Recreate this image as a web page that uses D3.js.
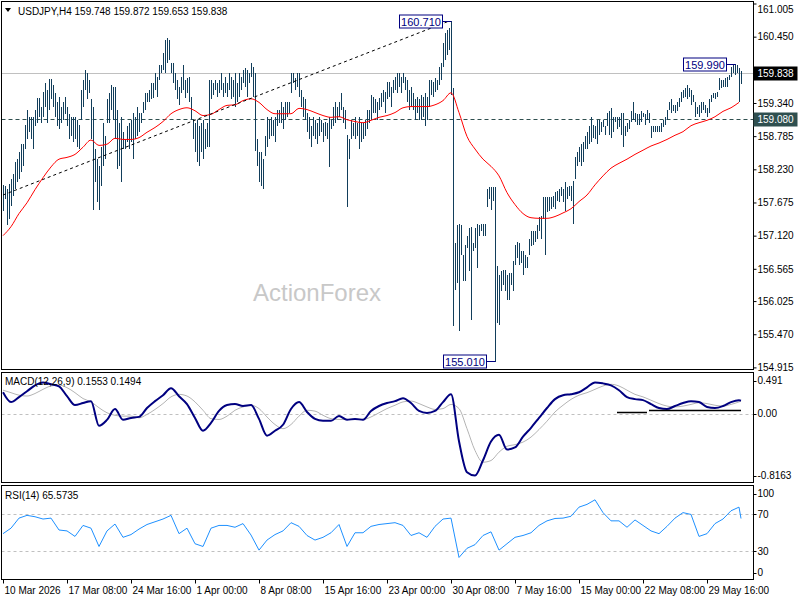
<!DOCTYPE html>
<html>
<head>
<script src="https://d3js.org/d3.v7.min.js"></script>
<title>USDJPY H4</title>
<style>
  body { margin: 0; background: #ffffff; }
  svg text { font-family: "Liberation Sans", Arial, sans-serif; font-size: 10px; }
</style>
</head>
<body>
<svg id="chart" width="800" height="600"></svg>
<script>
// ---- data ----
const symbol = "USDJPY,H4";
const lastOhlc = [159.748, 159.872, 159.653, 159.838];

// bar highs / lows, one per H4 bar, 10 Mar 00:00 .. 3 Jun
const highs = [
157.97,157.95,157.90,157.99,158.07,158.15,158.35,158.40,158.52,158.65,
158.65,158.98,159.23,159.10,159.10,159.10,159.23,159.43,159.43,159.28,
159.53,159.68,159.56,159.74,159.74,159.64,159.51,159.35,159.44,159.28,
159.35,159.44,159.28,159.15,159.11,159.11,159.11,159.06,158.98,159.56,
159.73,159.89,159.84,159.73,159.40,159.28,158.57,158.40,158.28,158.61,
159.01,158.78,159.40,159.51,159.64,159.61,159.61,159.23,159.01,159.11,
158.85,158.73,158.95,159.01,159.06,159.18,159.11,159.28,159.18,159.18,
159.35,159.51,159.51,159.56,159.68,159.68,159.84,159.78,159.98,159.98,
160.17,160.39,160.42,160.39,160.01,160.01,159.84,159.73,159.61,159.78,
159.98,159.73,159.76,159.78,159.44,159.06,159.01,159.06,158.95,159.01,
159.06,158.90,159.01,159.73,159.73,159.68,159.73,159.68,159.73,159.84,
159.68,159.78,159.68,159.84,159.78,159.73,159.84,159.68,159.84,159.78,
159.89,159.93,159.89,159.84,160.01,159.94,159.84,158.73,158.52,158.52,
158.40,158.78,159.11,159.06,159.11,159.06,159.11,159.23,159.23,159.36,
159.28,159.35,159.35,159.36,159.84,159.84,159.76,159.84,159.84,159.56,
159.44,159.40,159.18,159.11,158.95,159.11,159.06,159.01,159.11,159.06,
159.01,159.03,159.01,159.11,159.06,159.28,159.35,159.28,159.36,159.51,
159.28,159.23,158.81,158.73,159.06,159.01,159.11,159.01,159.11,159.01,
159.01,159.06,159.23,159.23,159.48,159.44,159.40,159.36,159.43,159.51,
159.56,159.53,159.69,159.69,159.61,159.73,159.78,159.84,159.84,159.78,
159.84,159.78,159.73,159.56,159.61,159.51,159.40,159.44,159.40,159.48,
159.44,159.51,159.44,159.73,159.73,159.69,159.76,159.73,159.94,160.01,
160.34,160.51,160.56,160.59,160.71,159.59,156.99,157.29,157.32,157.29,
156.79,156.96,157.12,157.24,157.27,156.99,157.24,157.32,157.29,157.32,
157.32,157.32,157.90,157.94,157.94,157.94,157.94,156.61,156.46,156.53,
156.54,156.54,156.46,156.49,156.49,156.69,156.96,157.02,156.99,156.86,
156.86,156.79,156.77,157.07,157.19,157.19,157.19,157.29,157.44,157.45,
157.77,157.77,157.77,157.77,157.77,157.79,157.85,157.87,157.90,157.94,
157.90,158.02,157.94,157.95,157.95,158.04,158.43,158.52,158.60,158.65,
158.68,158.78,158.86,158.95,159.10,158.98,158.95,159.06,159.06,159.03,
159.06,158.95,159.18,159.20,159.26,159.11,159.10,159.10,159.10,159.18,
159.18,158.95,159.01,159.06,159.20,159.35,159.18,159.15,159.15,159.20,
159.18,159.15,159.23,159.18,158.95,158.95,158.95,158.95,158.95,159.01,
159.06,159.11,159.23,159.36,159.40,159.31,159.31,159.36,159.43,159.53,
159.56,159.59,159.64,159.59,159.56,159.48,159.35,159.28,159.31,159.35,
159.36,159.31,159.26,159.40,159.48,159.51,159.51,159.53,159.76,159.73,
159.73,159.76,159.78,159.81,159.94,159.98,159.99,159.98,159.93,159.872
];
const lows = [
157.54,157.74,157.29,157.40,157.62,157.79,157.90,158.02,158.07,158.18,
158.28,158.57,158.73,158.85,158.73,158.57,158.95,159.01,159.11,159.01,
159.10,159.28,159.01,159.23,159.40,159.28,159.11,158.95,158.90,159.01,
159.06,159.15,158.95,158.73,158.78,158.68,158.73,158.61,158.57,159.06,
159.28,159.56,159.40,159.51,158.73,157.55,158.02,157.69,157.55,157.95,
158.28,158.40,159.01,159.01,159.23,159.06,158.73,158.23,158.28,158.02,
158.57,158.57,158.68,158.57,158.68,158.40,158.73,158.78,158.85,159.01,
159.18,159.23,159.35,159.35,159.40,159.43,159.56,159.44,159.73,159.84,
159.89,159.84,160.01,160.06,159.84,159.68,159.56,159.40,159.31,159.51,
159.56,159.43,159.51,159.35,159.06,158.73,158.52,158.35,158.28,158.52,
158.40,158.57,158.61,158.61,159.40,159.48,159.56,159.44,159.51,159.56,
159.44,159.51,159.44,159.56,159.40,159.44,159.28,159.35,159.44,159.56,
159.68,159.61,159.44,159.68,159.78,159.44,158.53,158.28,158.02,157.95,
157.90,158.45,158.61,158.73,158.78,158.78,158.68,158.95,159.01,159.01,
158.90,159.06,159.11,159.18,159.51,159.68,159.56,159.61,159.44,159.28,
159.11,159.06,158.85,158.73,158.60,158.78,158.73,158.65,158.78,158.85,
158.68,158.78,158.73,158.27,158.90,158.95,159.01,159.06,159.11,159.23,
159.01,158.90,157.60,158.40,158.73,158.78,158.73,158.78,158.57,158.68,
158.73,158.78,158.90,159.01,159.06,159.18,159.18,159.06,159.23,159.28,
159.35,159.18,159.40,159.44,159.28,159.51,159.56,159.51,159.61,159.51,
159.68,159.56,159.35,159.23,159.28,159.23,159.06,159.18,159.06,159.06,
159.11,158.95,159.06,159.28,159.48,159.44,159.53,159.56,159.64,159.73,
159.94,160.06,160.14,160.22,159.48,155.60,156.21,156.33,155.53,156.79,
156.36,156.36,156.91,156.53,155.71,156.86,156.91,156.58,157.12,157.19,
157.11,157.11,157.60,157.74,157.55,157.70,155.01,155.66,155.63,156.19,
156.29,156.19,156.05,156.05,156.29,156.19,156.63,156.74,156.63,156.66,
156.46,156.58,156.58,156.79,156.94,156.96,157.02,157.07,157.19,157.07,
157.40,156.79,157.52,157.54,157.57,157.60,157.57,157.70,157.69,157.79,
157.69,157.54,157.74,157.79,157.70,157.32,158.07,158.28,158.35,158.28,
158.35,158.57,158.57,158.65,158.68,158.76,158.73,158.65,158.81,158.86,
158.93,158.81,158.95,158.81,158.76,158.86,159.03,158.90,158.93,158.81,
158.60,158.78,158.86,158.90,159.03,159.06,159.03,158.98,158.98,159.03,
159.10,158.98,159.06,159.01,158.76,158.86,158.86,158.86,158.86,158.86,
158.93,158.98,159.06,159.23,159.18,159.20,159.18,159.20,159.28,159.35,
159.43,159.44,159.40,159.44,159.31,159.35,159.10,159.15,159.10,159.18,
159.23,159.18,159.10,159.18,159.35,159.43,159.40,159.44,159.56,159.59,
159.61,159.61,159.61,159.73,159.78,159.84,159.81,159.84,159.35,159.653
];

// indicator readings, one every 4 bars (bar 0, 4, 8 ... 368)
const sampleStep = 4;
const maValues = [
157.12,157.27,157.49,157.67,157.89,158.09,158.27,158.40,158.43,158.48,
158.60,158.72,158.63,158.65,158.75,158.73,158.73,158.76,158.85,158.93,
159.03,159.16,159.23,159.26,159.21,159.13,159.15,159.23,159.30,159.31,
159.38,159.41,159.35,159.23,159.16,159.16,159.16,159.25,159.23,159.18,
159.13,159.10,159.11,159.06,159.03,159.01,159.05,159.10,159.13,159.18,
159.26,159.28,159.28,159.28,159.31,159.38,159.51,159.18,158.78,158.57,
158.40,158.28,158.12,157.84,157.64,157.49,157.42,157.41,157.41,157.44,
157.50,157.57,157.69,157.80,157.97,158.12,158.25,158.33,158.40,158.48,
158.55,158.62,158.67,158.73,158.80,158.86,158.96,159.01,159.05,159.11,
159.20,159.26,159.35
];
const macdMain = [
0.255,0.138,0.197,0.267,0.338,0.373,0.350,0.326,0.208,0.102,
0.126,0.149,-0.145,-0.074,0.055,-0.074,-0.051,-0.039,0.067,0.149,
0.220,0.303,0.208,0.114,-0.051,-0.204,-0.110,0.032,0.102,0.114,
0.091,0.102,-0.063,-0.263,-0.204,-0.133,0.055,0.138,0.020,-0.063,
-0.086,-0.086,-0.027,-0.074,-0.063,-0.074,0.032,0.091,0.126,0.149,
0.185,0.126,0.032,0.008,0.032,0.138,0.232,-0.33,-0.70,-0.74,
-0.557,-0.333,-0.251,-0.428,-0.404,-0.275,-0.169,-0.051,0.067,0.173,
0.220,0.232,0.255,0.314,0.373,0.361,0.338,0.279,0.197,0.173,
0.161,0.114,0.067,0.055,0.091,0.126,0.149,0.138,0.079,0.067,
0.091,0.138,0.16
];
const macdSignal = [
0.28,0.25,0.22,0.21,0.24,0.29,0.33,0.34,0.31,0.25,
0.18,0.14,0.07,0.01,-0.02,-0.03,-0.03,-0.05,-0.01,0.05,
0.12,0.20,0.23,0.21,0.14,0.04,-0.06,-0.07,-0.03,0.04,
0.08,0.10,0.06,-0.04,-0.13,-0.18,-0.13,-0.03,0.04,0.03,
-0.02,-0.06,-0.07,-0.07,-0.06,-0.07,-0.04,0.01,0.06,0.10,
0.14,0.15,0.12,0.08,0.05,0.06,0.11,0.06,-0.18,-0.44,
-0.58,-0.56,-0.46,-0.39,-0.37,-0.34,-0.28,-0.19,-0.09,0.02,
0.10,0.17,0.22,0.25,0.29,0.33,0.35,0.33,0.28,0.23,
0.20,0.16,0.12,0.09,0.08,0.09,0.11,0.13,0.12,0.10,
0.09,0.11,0.14
];
const rsiValues = [
49,55,66,69,67.5,65,66,53,52,46,
58,55,35,52,59.5,45,48,54,59,62,
65,69,49,55,38,35,55,58,58,56,
60,47.5,31,42,48,52,61,57,47,42,
45,50,59,35,50,50,57,59,60,61,
58,47,50,45,57,65,66,23,33,37,
47,51,31,38,45,47,50,58,63,65.6,
66,68,78,81,86,72,63,63,56,64,
58,52,49,57,66,72,70,46,49,60,
65,74,78
];
const macdLast = [0.1553, 0.1494];
const rsiLast = 65.5735;

// drawn objects
const trendLine = [[0, 157.80], [223, 160.71]];
const levelLine = 159.080;
const priceMarks = [[224, 160.710], [246, 155.010], [366, 159.990]];
const macdLevels = [[307, 322, 0.012], [323, 369, 0.036]];

// axis labels
const priceTicks = [161.005, 160.450, 159.340, 158.785, 158.230, 157.675, 157.120, 156.565, 156.025, 155.470, 154.915];
const macdTicks = [0.491, 0, -0.8163];
const rsiTicks = [100, 70, 30, 0];
const rsiLevels = [70, 30];
const timeTickBars = [0, 32, 64, 96, 128, 160, 192, 224, 256, 288, 320, 352];
const timeLabels = ["10 Mar 2026", "17 Mar 08:00", "24 Mar 16:00", "1 Apr 00:00", "8 Apr 08:00", "15 Apr 16:00",
                    "23 Apr 00:00", "30 Apr 08:00", "7 May 16:00", "15 May 00:00", "22 May 08:00", "29 May 16:00"];

// ---- layout ----
const svg = d3.select("#chart");
const L = 1.5, R = 753.5;
const pMain = [1.5, 369.5], pMacd = [372.5, 482.5], pRsi = [485.5, 579.5];

const last = highs.length - 1;
const x = d3.scaleLinear().domain([0, last]).range([3, 741]);
const yP = d3.scaleLinear().domain([154.915, 161.005]).range([367.4, 3.5]);
const yM = d3.scaleLinear().domain([-0.8163, 0.491]).range([482, 372.5]);
const yR = d3.scaleLinear().domain([0, 100]).range([578.5, 487]);
const bx = i => Math.round(x(i)) + 0.5;

const defs = svg.append("defs");
[["cMain", pMain], ["cMacd", pMacd], ["cRsi", pRsi]].forEach(([id, p]) => {
  defs.append("clipPath").attr("id", id).append("rect")
    .attr("x", L).attr("y", p[0]).attr("width", R - L).attr("height", p[1] - p[0]);
});

// watermark
svg.append("text").attr("x", 317).attr("y", 301).attr("text-anchor", "middle")
  .style("font-size", "24px").attr("fill", "#c8c8c8").text("ActionForex");

// ---- main panel ----
const gMain = svg.append("g").attr("clip-path", "url(#cMain)");

gMain.append("line").attr("x1", L).attr("x2", R)
  .attr("y1", Math.round(yP(lastOhlc[3])) + 0.5).attr("y2", Math.round(yP(lastOhlc[3])) + 0.5)
  .attr("stroke", "#c0c0c0");
gMain.append("line").attr("x1", L).attr("x2", R)
  .attr("y1", Math.round(yP(levelLine)) + 0.5).attr("y2", Math.round(yP(levelLine)) + 0.5)
  .attr("stroke", "#2f4f4f").attr("stroke-dasharray", "4,3");

gMain.selectAll("line.bar").data(highs).join("line").attr("class", "bar")
  .attr("x1", (d, i) => bx(i)).attr("x2", (d, i) => bx(i))
  .attr("y1", d => yP(d))
  .attr("y2", (d, i) => Math.max(yP(lows[i]), yP(d) + 2))
  .attr("stroke", "#123e5b").attr("stroke-width", 1)
  .attr("shape-rendering", "crispEdges");

const maPts = maValues.map((v, k) => [k * sampleStep, v]);
gMain.append("path").datum(maPts)
  .attr("d", d3.line().x(d => x(d[0])).y(d => yP(d[1])).curve(d3.curveMonotoneX))
  .attr("fill", "none").attr("stroke", "#ff0000").attr("stroke-width", 1);

gMain.append("path").datum(trendLine)
  .attr("d", d3.line().x(d => x(d[0])).y(d => yP(d[1])))
  .attr("fill", "none").attr("stroke", "#000").attr("stroke-dasharray", "3,3");

// price marks (boxed labels)
priceMarks.forEach(([i, v]) => {
  const yy = Math.min(Math.round(yP(v)), 361) + 0.5;
  const xr = bx(i) - 9;
  gMain.append("line").attr("x1", xr).attr("x2", bx(i)).attr("y1", yy).attr("y2", yy)
    .attr("stroke", "#000080");
  gMain.append("rect").attr("x", xr - 43).attr("y", yy - 6.5).attr("width", 43).attr("height", 13)
    .attr("fill", "#fff").attr("stroke", "#000080");
  gMain.append("text").attr("x", xr - 21.5).attr("y", yy + 4).attr("text-anchor", "middle")
    .attr("fill", "#000080").style("font-size", "11px").text(v.toFixed(3));
});

// ---- MACD panel ----
const gMacd = svg.append("g").attr("clip-path", "url(#cMacd)");
gMacd.append("line").attr("x1", L).attr("x2", R)
  .attr("y1", Math.round(yM(0)) + 0.5).attr("y2", Math.round(yM(0)) + 0.5)
  .attr("stroke", "#c0c0c0").attr("stroke-dasharray", "3,3");
const sigPts = macdSignal.map((v, k) => [k * sampleStep, v]).concat([[last, macdLast[1]]]);
const mainPts = macdMain.map((v, k) => [k * sampleStep, v]).concat([[last, macdLast[0]]]);
const lineM = d3.line().x(d => x(d[0])).y(d => yM(d[1])).curve(d3.curveMonotoneX);
gMacd.append("path").datum(sigPts).attr("d", lineM)
  .attr("fill", "none").attr("stroke", "#b4b4b4").attr("stroke-width", 1);
gMacd.append("path").datum(mainPts).attr("d", lineM)
  .attr("fill", "none").attr("stroke", "#000080").attr("stroke-width", 2);
gMacd.selectAll("line.lvl").data(macdLevels).join("line").attr("class", "lvl")
  .attr("x1", d => x(d[0])).attr("x2", d => x(d[1]))
  .attr("y1", d => yM(d[2])).attr("y2", d => yM(d[2]))
  .attr("stroke", "#000").attr("stroke-width", 1.5);

// ---- RSI panel ----
const gRsi = svg.append("g").attr("clip-path", "url(#cRsi)");
gRsi.selectAll("line.lvl").data(rsiLevels).join("line").attr("class", "lvl")
  .attr("x1", L).attr("x2", R)
  .attr("y1", d => Math.round(yR(d)) + 0.5).attr("y2", d => Math.round(yR(d)) + 0.5)
  .attr("stroke", "#c0c0c0").attr("stroke-dasharray", "3,3");
const rsiPts = rsiValues.map((v, k) => [k * sampleStep, v]).concat([[last, rsiLast]]);
gRsi.append("path").datum(rsiPts)
  .attr("d", d3.line().x(d => x(d[0])).y(d => yR(d[1])))
  .attr("fill", "none").attr("stroke", "#1e90ff").attr("stroke-width", 1);

// ---- frames ----
[pMain, pMacd, pRsi].forEach(p => {
  svg.append("rect").attr("x", L).attr("y", p[0]).attr("width", R - L).attr("height", p[1] - p[0])
    .attr("fill", "none").attr("stroke", "#000");
});

// ---- right axes ----
const axP = svg.append("g").attr("transform", `translate(${R},0)`)
  .call(d3.axisRight(yP).tickValues(priceTicks).tickSize(3).tickPadding(1).tickFormat(d => d.toFixed(3)));
axP.select(".domain").remove();
axP.selectAll(".tick text").style("font-size", "10px").attr("fill", "#000")
  .attr("dy", (d) => d === priceTicks[0] ? "0.9em" : "0.32em");

function sideLabels(ticks, scale, p, fmt) {
  const g = svg.append("g");
  ticks.forEach(v => {
    const yy = scale(v);
    const yc = Math.max(p[0] + 8, Math.min(p[1] - 7, yy));
    g.append("line").attr("x1", R).attr("x2", R + 3).attr("y1", Math.round(yc) + 0.5).attr("y2", Math.round(yc) + 0.5)
      .attr("stroke", "#000");
    g.append("text").attr("x", R + 4).attr("y", yc + 3.5).text(fmt(v));
  });
}
sideLabels(macdTicks, yM, pMacd, v => v === 0 ? "0.00" : String(v));
sideLabels(rsiTicks, yR, pRsi, v => String(v));

// price boxes on axis
[[lastOhlc[3], "#000000"], [levelLine, "#2f4f4f"]].forEach(([v, c]) => {
  const yy = Math.round(yP(v)) + 0.5;
  svg.append("rect").attr("x", R).attr("y", yy - 7).attr("width", 44).attr("height", 14).attr("fill", c);
  svg.append("text").attr("x", R + 4).attr("y", yy + 3.5).attr("fill", "#fff").text(v.toFixed(3));
});

// ---- time axis ----
const axT = svg.append("g");
timeTickBars.forEach((b, k) => {
  axT.append("line").attr("x1", bx(b)).attr("x2", bx(b)).attr("y1", pRsi[1]).attr("y2", pRsi[1] + 4)
    .attr("stroke", "#000");
  axT.append("text").attr("x", bx(b) + 1).attr("y", 594).text(timeLabels[k]);
});

// ---- titles ----
svg.append("path").attr("d", "M5,8 L11,8 L8,12 Z").attr("fill", "#000");
svg.append("text").attr("x", 18).attr("y", 15)
  .text(`${symbol}  ${lastOhlc.map(v => v.toFixed(3)).join(" ")}`);
svg.append("text").attr("x", 5).attr("y", 385)
  .text(`MACD(12,26,9) ${macdLast[0].toFixed(4)} ${macdLast[1].toFixed(4)}`);
svg.append("text").attr("x", 5).attr("y", 499).text(`RSI(14) ${rsiLast.toFixed(4)}`);
</script>
</body>
</html>
